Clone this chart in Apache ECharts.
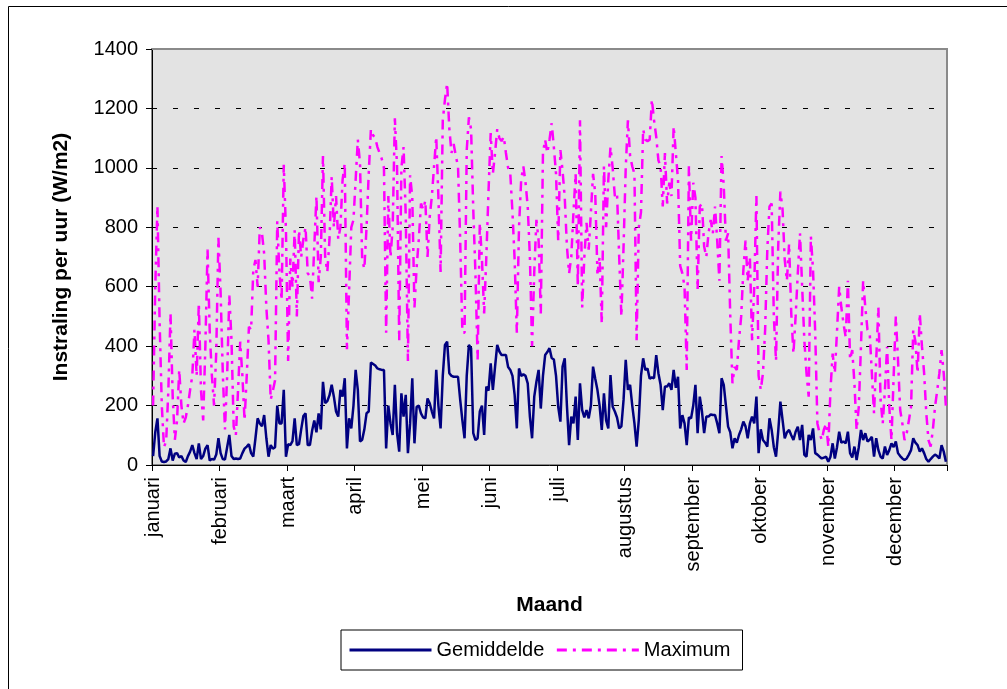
<!DOCTYPE html>
<html><head><meta charset="utf-8">
<script src="https://cdn.jsdelivr.net/npm/echarts/dist/echarts.min.js"></script>
<style>html,body{margin:0;padding:0;background:#fff}#c{width:1007px;height:689px}</style>
</head><body><div id="c"></div>
<script>
const monthNames = ['januari','februari','maart','april','mei','juni','juli','augustus','september','oktober','november','december'];
const monthDays = [31,28,31,30,31,30,31,31,30,31,30,31];
const yMin = 0, yMax = 1400, yStep = 200;

// Gemiddelde (daily mean hourly irradiation, W/m2), 365 days
const gemiddelde = [
30,110,157,30,12,10,12,20,56,15, 38,40,25,30,15,10,30,45,67,40, 20,73,20,30,55,67,15,20,18,35, 90,40,20,18,60,101,30,20,22,20, 22,40,55,62,70,
40,28,90,157,140,130,168,90,28,67, 55,60,200,140,140,253,28,70,67,80, 157,67,70,120,165,174,67,67,115,150, 110,174,120,280,208,215,235,270,230,180, 163,253,230,292,56,157,
123,200,320,253,79,85,120,174,180, 345,340,335,325,322,320,320,56,200,140, 101,270,107,45,241,163,236,40,140,292, 73,196,200,174,160,157,224,208,180,157, 320,200,123,300,404,415,
309,300,297,297,297,219,150,90,300,404, 393,107,84,90,180,200,101,264,250,342, 253,330,404,382,370,370,370,330,320,300, 236,123,325,300,305,300,275,163,90,230, 280,320,190,300,370,
380,393,360,355,300,196,146,331,359,200, 67,163,140,230,84,275,185,160,185,157, 200,331,290,253,200,118,241,150,123,303, 196,180,160,123,130,219,354,253,270,200, 140,62,152,300,359,320,325,290,
295,292,370,309,270,185,264,264,275,253, 320,260,297,123,168,140,67,160,157,200, 270,107,230,180,107,163,163,170,168,168, 140,107,292,270,200,129,110,56,90,75, 101,120,146,130,90,140,
163,140,230,40,120,84,75,62,157,118, 60,28,112,213,152,90,110,118,100,84, 112,129,84,135,34,28,101,84,123,40, 35,28,22,25,28,11,28,73,22,60, 112,75,79,73,112,40,
25,62,17,60,118,84,107,79,85,95, 28,90,50,28,22,62,34,50,73,60, 79,40,30,22,17,22,35,50,90,75, 67,45,56,40,20,11,20,28,35,30, 22,67,45,11
];

// Maximum (daily maximum hourly irradiation, W/m2), 365 days
const maximum = [
200,600,870,480,200,60,80,250,510,230, 85,150,320,200,140,160,200,253,300,455, 300,545,250,150,400,725,450,300,200,380, 765,580,310,120,300,570,420,130,100,250, 415,300,150,300,465,
455,655,690,600,800,780,710,530,420,220, 250,285,820,650,555,1010,790,350,695,600, 790,500,790,700,760,800,645,635,560,735, 905,615,700,1040,700,650,760,970,800,905, 760,800,960,1015,390,590,
800,825,960,1095,1015,690,660,800,980, 1130,1110,1100,1070,1050,1030,1000,445,905,700, 800,1167,1005,420,1000,1070,840,350,975,900, 530,665,760,880,860,890,700,835,905,1005, 1105,900,650,1160,1230,1285,
1133,1050,1080,1040,1005,755,445,445,1060,1170, 1130,860,645,355,815,690,510,700,920,1117, 980,1050,1130,1100,1090,1105,1050,1000,980,850, 690,445,800,960,1005,950,870,700,400,650, 825,755,510,1050,1095,
1050,1095,1150,1070,980,755,1060,990,900,735, 645,700,850,980,600,1160,530,700,815,725, 850,980,915,645,700,475,1005,800,960,1070, 1000,905,915,700,500,735,1000,1160,1040,1005, 980,420,800,850,1130,1095,1090,1095,
1230,1160,1105,1025,1005,870,1050,880,950,905, 1140,1050,960,670,645,600,320,1005,755,950, 900,590,870,880,735,700,780,825,780,870, 755,620,1040,940,755,780,500,275,330,320, 420,500,655,755,620,700,
420,600,905,300,253,309,455,725,870,880, 500,350,735,920,860,690,620,745,510,375, 500,645,780,600,420,309,230,770,655,445, 140,107,84,120,140,62,253,375,309,450, 600,530,475,430,620,355,
387,275,118,196,400,620,530,455,445,309, 174,355,530,219,140,253,398,196,84,297, 500,355,185,140,84,107,150,196,455,415, 309,510,400,309,174,84,62,118,196,250, 309,387,309,196
];

const categories = [];
monthNames.forEach((m, i) => { for (let d = 1; d <= monthDays[i]; d++) categories.push(m + ' ' + d); });

const font = 'Liberation Sans, Arial, sans-serif';
const chart = echarts.init(document.getElementById('c'), null, {renderer: 'canvas'});
chart.setOption({
  animation: false,
  backgroundColor: '#ffffff',
  textStyle: {fontFamily: font},
  grid: {left: 152, top: 49, width: 795, height: 416, show: true, backgroundColor: '#e3e3e3',
         borderColor: '#8a8a8a', borderWidth: 2, containLabel: false, outerBoundsMode: 'none'},
  legend: {
    left: 341, top: 630, orient: 'horizontal', itemWidth: 82, itemHeight: 14, itemGap: 11,
    padding: [10, 12, 10, 7], borderColor: '#000', borderWidth: 1, backgroundColor: '#fff', borderRadius: 0,
    itemStyle: {opacity: 0},
    lineStyle: {width: 3},
    textStyle: {fontSize: 20, color: '#000', fontFamily: font},
    data: ['Gemiddelde', 'Maximum']
  },
  xAxis: {
    type: 'category', data: categories, boundaryGap: true,
    axisLine: {show: true, lineStyle: {color: '#000', width: 1}},
    axisTick: {show: true, interval: 30, length: 6, inside: false, lineStyle: {color: '#000', width: 1}},
    axisLabel: {interval: 30, rotate: 90, fontSize: 20, color: '#000', margin: 12, fontFamily: font,
                formatter: v => v.split(' ')[0]},
    splitLine: {show: false},
    name: 'Maand', nameLocation: 'middle', nameGap: 130,
    nameTextStyle: {fontWeight: 'bold', fontSize: 21, color: '#000', fontFamily: font}
  },
  yAxis: {
    type: 'value', min: yMin, max: yMax, interval: yStep,
    axisLine: {show: true, lineStyle: {color: '#000', width: 1}},
    axisTick: {show: true, length: 6, inside: false, lineStyle: {color: '#000', width: 1}},
    axisLabel: {fontSize: 20, color: '#000', margin: 14, fontFamily: font, formatter: v => String(v)},
    splitLine: {show: true, lineStyle: {color: '#000', width: 1, type: [5, 16]}},
    name: 'Instraling per uur (W/m2)', nameLocation: 'middle', nameGap: 80, nameRotate: 90,
    nameTextStyle: {fontWeight: 'bold', fontSize: 21, color: '#000', fontFamily: font}
  },
  graphic: [
    {type: 'rect', silent: true, z: -10, shape: {x: 8.5, y: 6.5, width: 1010, height: 700},
     style: {fill: null, stroke: '#000', lineWidth: 1}},
    {type: 'line', silent: true, z: 100, shape: {x1: 152, y1: 49, x2: 947, y2: 49},
     style: {stroke: '#8a8a8a', lineWidth: 2}}
  ],
  series: [
    {name: 'Gemiddelde', type: 'line', data: gemiddelde, symbol: 'none', z: 4,
     lineStyle: {color: '#000080', width: 2.5}, itemStyle: {color: '#000080'}},
    {name: 'Maximum', type: 'line', data: maximum, symbol: 'none', z: 3,
     lineStyle: {color: '#ff00ff', width: 2.5, type: [10, 6, 3, 6]}, itemStyle: {color: '#ff00ff'}}
  ]
});
</script></body></html>
